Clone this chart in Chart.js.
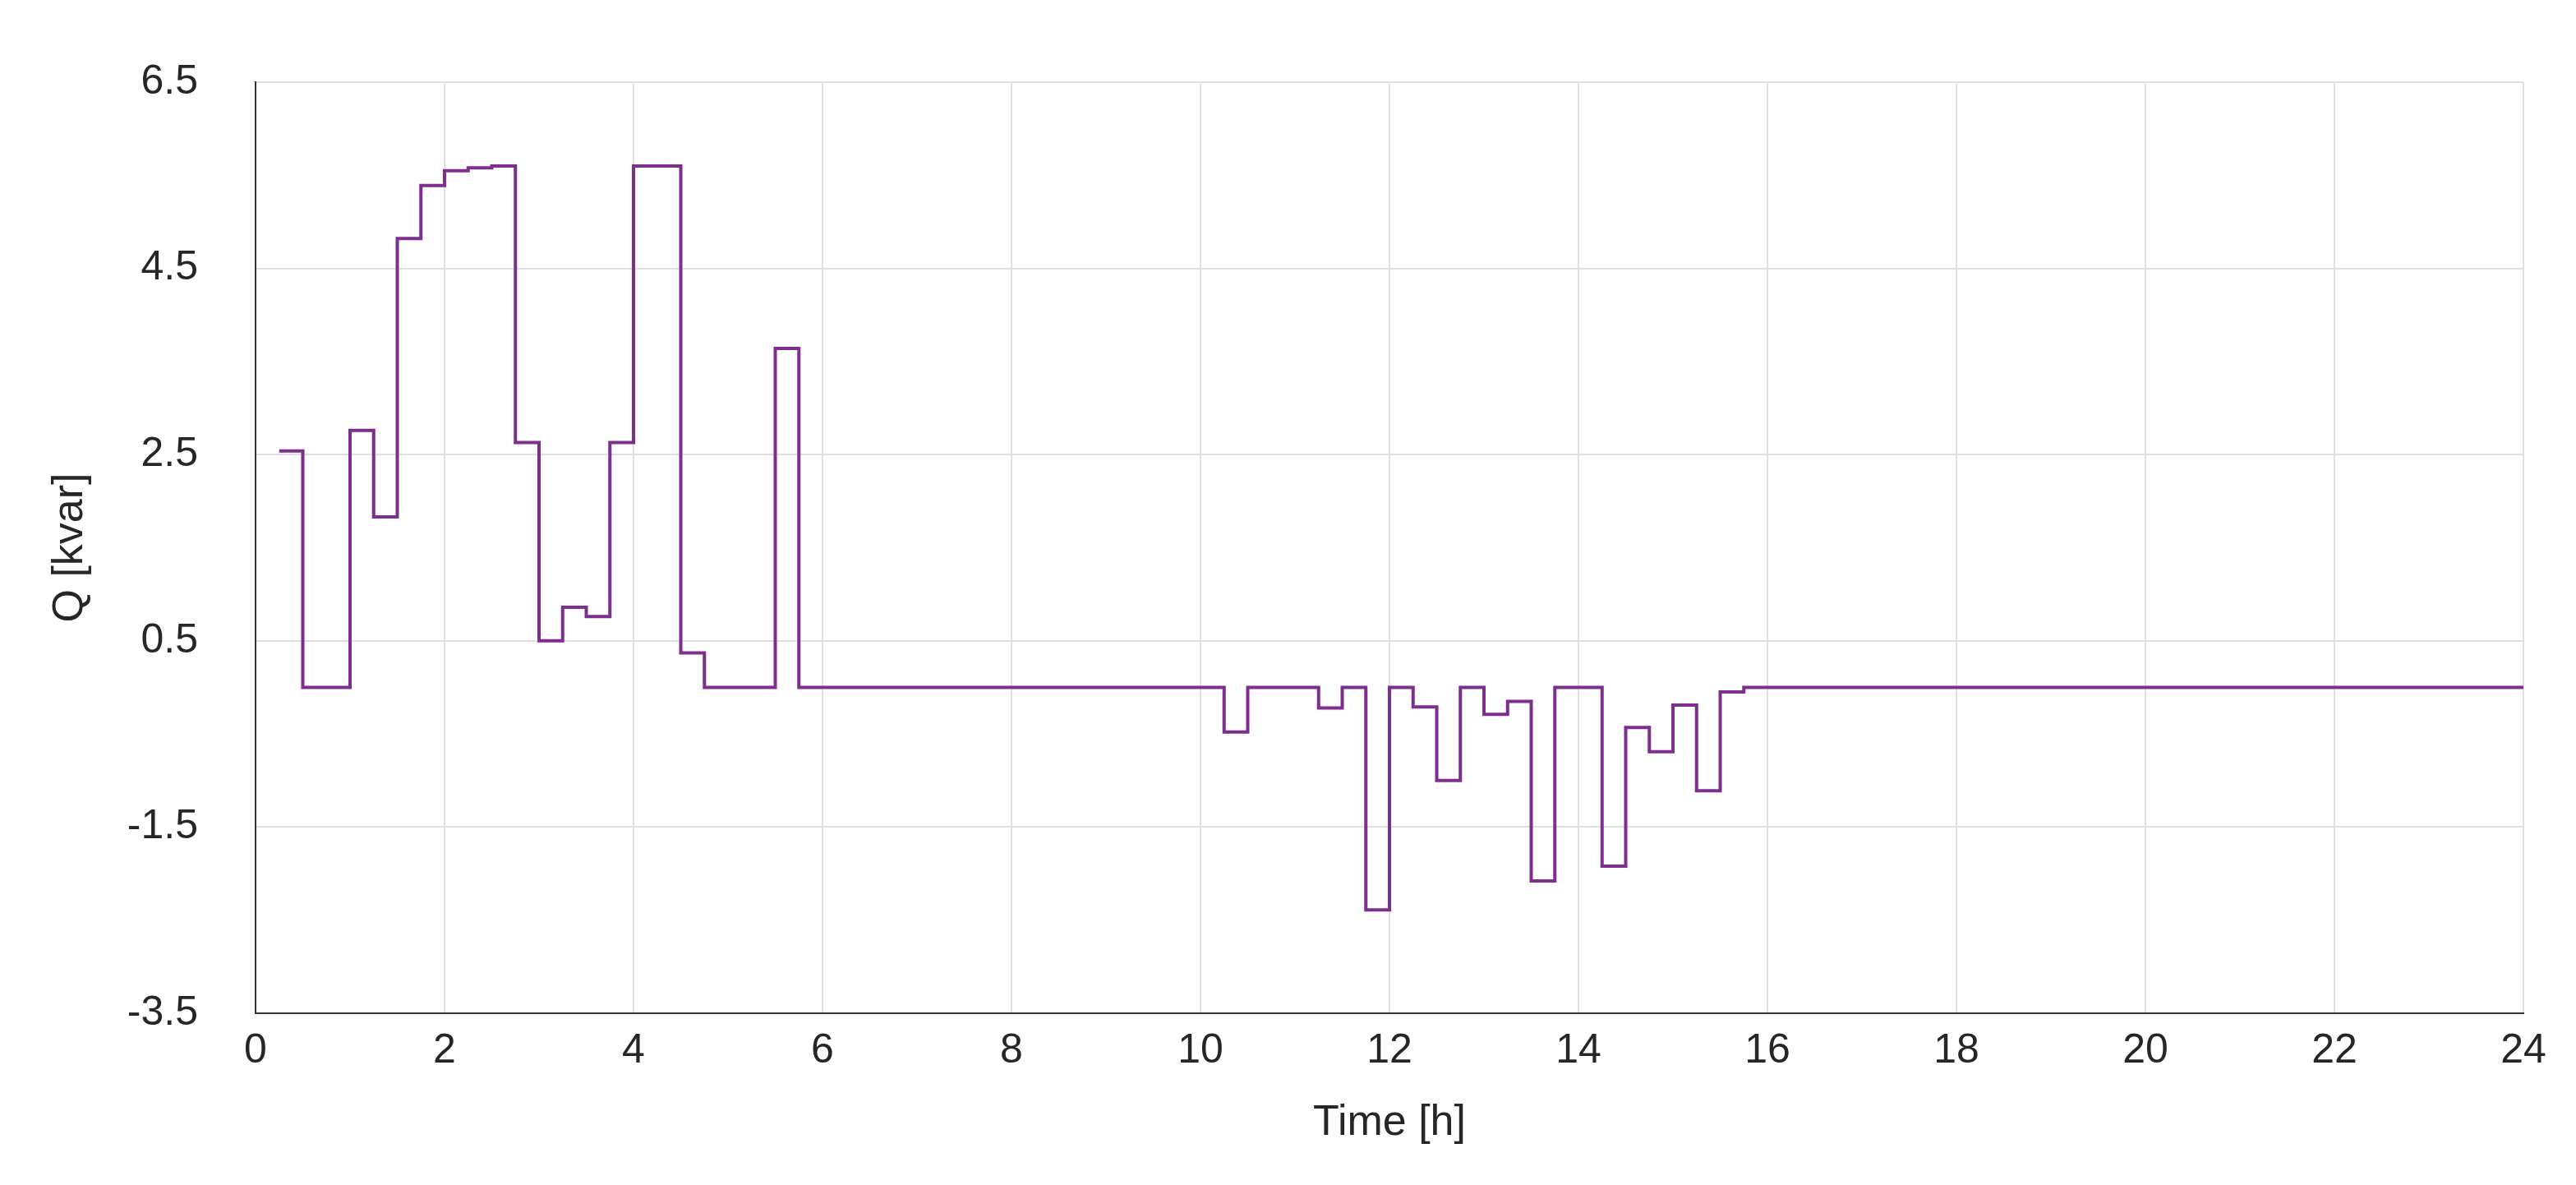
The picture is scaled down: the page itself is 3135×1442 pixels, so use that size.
<!DOCTYPE html>
<html><head><meta charset="utf-8">
<script src="https://cdn.jsdelivr.net/npm/chart.js@4"></script>
<style>html,body{margin:0;padding:0;background:#fff}#c{display:block}</style>
</head><body>
<canvas id="c" width="3135" height="1442"></canvas>
<script>
const times = [0.25,0.5,1.0,1.25,1.5,1.75,2.0,2.25,2.5,2.75,3.0,3.25,3.5,3.75,4.0,4.5,4.75,5.5,5.75,10.25,10.5,11.25,11.5,11.75,12.0,12.25,12.5,12.75,13.0,13.25,13.5,13.75,14.25,14.5,14.75,15.0,15.25,15.5,15.75,24];
const qValues = [2.54,0,2.76,1.83,4.82,5.39,5.55,5.58,5.6,2.63,0.5,0.86,0.76,2.63,5.6,0.37,0,3.64,0,-0.48,0,-0.22,0,-2.39,0,-0.21,-1.0,0,-0.29,-0.15,-2.08,0,-1.92,-0.43,-0.69,-0.19,-1.11,-0.05,0,0];
const yTicks = [-3.5,-1.5,0.5,2.5,4.5,6.5];
const xTicks = [0,2,4,6,8,10,12,14,16,18,20,22,24];

const pts = times.map((t,i)=>({x:t,y:qValues[i]}));
const font = {family:'Arial, "Liberation Sans", sans-serif', size:50};
new Chart(document.getElementById('c'),{
  type:'line',
  data:{datasets:[{data:pts,stepped:'before',borderColor:'#7E2F8E',borderWidth:4,pointRadius:0,fill:false}]},
  options:{
    responsive:false,animation:false,
    layout:{padding:{top:94,right:64,left:50,bottom:40}},
    plugins:{legend:{display:false},tooltip:{enabled:false}},
    scales:{
      x:{type:'linear',min:0,max:24,
        afterBuildTicks:s=>{s.ticks=xTicks.map(v=>({value:v}));},
        afterFit:s=>{s.height=169;},
        grid:{color:'#e0e0e0',lineWidth:2,drawTicks:false},
        border:{color:'#333',width:2},
        ticks:{font,color:'#262626',padding:16},
        title:{display:true,text:'Time [h]',font:{...font,size:52},color:'#262626',padding:{top:0}}},
      y:{type:'linear',min:-3.5,max:6.5,
        afterBuildTicks:s=>{s.ticks=yTicks.map(v=>({value:v}));},
        afterFit:s=>{s.width=261;},
        grid:{color:'#e0e0e0',lineWidth:2,drawTicks:false},
        border:{color:'#333',width:2},
        ticks:{font,color:'#262626',padding:70,callback:v=>String(v)},
        title:{display:true,text:'Q [kvar]',font:{...font,size:52},color:'#262626',padding:{bottom:10}}}
    }
  }
});
</script>
</body></html>
